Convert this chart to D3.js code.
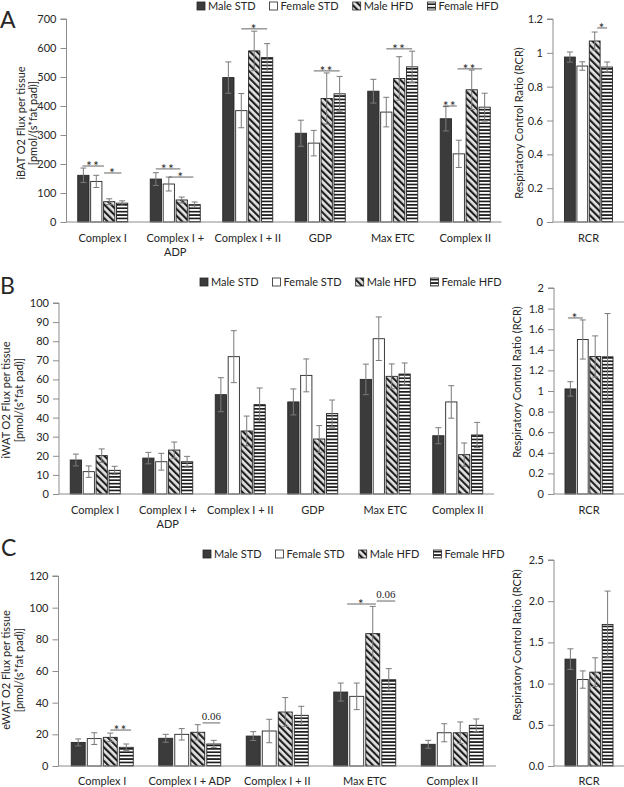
<!DOCTYPE html>
<html><head><meta charset="utf-8">
<script src="https://cdn.jsdelivr.net/npm/d3@7"></script>
<style>
body{margin:0;background:#fff}
svg{display:block}
text{font-family:Lato,"Open Sans",sans-serif;fill:#262626}
</style>
</head><body>
<svg id="chart" width="624" height="787"></svg>
<script>
// ---------- data ----------
const seriesNames = ["Male STD", "Female STD", "Male HFD", "Female HFD"];
const catsAB = ["Complex I", "Complex I +\nADP", "Complex I + II", "GDP", "Max ETC", "Complex II"];
const catsC = ["Complex I", "Complex I + ADP", "Complex I + II", "Max ETC", "Complex II"];
const rcrCats = ["RCR"];

// Panel A : iBAT
const aMaleSTD = [161, 148, 498, 306, 451, 356];
const aFemaleSTD = [140, 131, 384, 272, 379, 235];
const aMaleHFD = [70, 76, 590, 426, 495, 456];
const aFemaleHFD = [65, 60, 567, 442, 535, 396];
const aMaleSTDErr = [25, 22, 54, 45, 41, 42];
const aFemaleSTDErr = [21, 24, 59, 44, 51, 47];
const aMaleHFDErr = [10, 10, 68, 88, 75, 68];
const aFemaleHFDErr = [8, 9, 48, 60, 54, 48];
const aRCR = [0.975, 0.922, 1.07, 0.916];
const aRCRErr = [0.03, 0.025, 0.053, 0.03];
const aTicks = [0, 100, 200, 300, 400, 500, 600, 700];
const aRCRTicks = [0, 0.2, 0.4, 0.6, 0.8, 1, 1.2];
const aSig = [
  {cat: 0, s0: -0.08, s1: 1.6, y: 193, label: "**"},
  {cat: 0, s0: 1.6, s1: 2.95, y: 169, label: "*"},
  {cat: 1, s0: 0, s1: 1.9, y: 183, label: "**"},
  {cat: 1, s0: 1, s1: 2.9, y: 155, label: "*"},
  {cat: 2, s0: 1, s1: 3, y: 666, label: "*"},
  {cat: 3, s0: 1, s1: 3, y: 521, label: "**"},
  {cat: 4, s0: 1, s1: 3, y: 597, label: "**"},
  {cat: 5, s0: -0.2, s1: 0.85, y: 400, label: "**"},
  {cat: 5, s0: 0.9, s1: 2.8, y: 528, label: "**"}
];
const aRCRSig = [{cat: 0, s0: 2.2, s1: 3, y: 1.147, label: "*"}];

// Panel B : iWAT
const bMaleSTD = [17.8, 18.8, 52, 48.2, 60, 30.5];
const bFemaleSTD = [11.7, 16.9, 71.9, 62.1, 81.3, 48.2];
const bMaleHFD = [20.1, 23, 33, 28.8, 61.6, 20.6];
const bFemaleHFD = [12.4, 16.9, 46.8, 42.1, 62.8, 30.9];
const bMaleSTDErr = [3.1, 3, 8.9, 6.8, 8, 4.2];
const bFemaleSTDErr = [3, 4.4, 13.6, 8.6, 11.4, 8.5];
const bMaleHFDErr = [3.5, 4.2, 7.8, 7, 6.5, 6.1];
const bFemaleHFDErr = [2.1, 2.8, 8.7, 7.1, 5.8, 6.6];
const bRCR = [1.02, 1.5, 1.335, 1.332];
const bRCRErr = [0.07, 0.19, 0.2, 0.42];
const bTicks = [0, 10, 20, 30, 40, 50, 60, 70, 80, 90, 100];
const bRCRTicks = [0, 0.2, 0.4, 0.6, 0.8, 1, 1.2, 1.4, 1.6, 1.8, 2];
const bSig = [];
const bRCRSig = [{cat: 0, s0: -0.2, s1: 1, y: 1.709, label: "*"}];

// Panel C : eWAT
const cMaleSTD = [14.9, 17.5, 18.9, 46.7, 13.7];
const cFemaleSTD = [17.3, 20, 22.1, 44, 21];
const cMaleHFD = [18.1, 21.3, 34.1, 83.6, 21];
const cFemaleHFD = [11.8, 13.9, 32, 54.5, 25.7];
const cMaleSTDErr = [2.2, 2.5, 2.8, 5.7, 2.5];
const cFemaleSTDErr = [3.7, 3.6, 7.4, 8.4, 5.7];
const cMaleHFDErr = [2.7, 4.8, 9.1, 17.2, 6.8];
const cFemaleHFDErr = [2.1, 2.3, 5.7, 7, 4];
const cRCR = [1.297, 1.049, 1.139, 1.718];
const cRCRErr = [0.125, 0.105, 0.174, 0.405];
const cTicks = [0, 20, 40, 60, 80, 100, 120];
const cRCRTicks = [0, 0.5, 1, 1.5, 2, 2.5];
const cSig = [
  {cat: 0, s0: 2, s1: 3.3, y: 22.7, label: "**"},
  {cat: 1, s0: 2.3, s1: 3.4, y: 27.2, label: "0.06"},
  {cat: 3, s0: 0.4, s1: 2.2, y: 102.3, label: "*"},
  {cat: 3, s0: 2.25, s1: 3.4, y: 104.2, label: "0.06"}
];
const cRCRSig = [];

// ---------- drawing ----------
const svg = d3.select("#chart");
const defs = svg.append("defs");
const pd = defs.append("pattern").attr("id", "diag").attr("patternUnits", "userSpaceOnUse")
  .attr("width", 4.8).attr("height", 4.8).attr("patternTransform", "rotate(-45)");
pd.append("rect").attr("width", 4.8).attr("height", 4.8).attr("fill", "#e2e2e2");
pd.append("rect").attr("width", 2.1).attr("height", 4.8).attr("fill", "#1e1e1e");
const ph = defs.append("pattern").attr("id", "horz").attr("patternUnits", "userSpaceOnUse")
  .attr("width", 4).attr("height", 3.4);
ph.append("rect").attr("width", 4).attr("height", 3.4).attr("fill", "#fff");
ph.append("rect").attr("width", 4).attr("height", 1.7).attr("fill", "#1e1e1e");

const fills = ["#3b3b3b", "#ffffff", "url(#diag)", "url(#horz)"];
const axisColor = "#8c8c8c";
const errColor = "#7a7a7a";
const textColor = "#262626";

function drawBars(o) {
  const g = svg.append("g");
  const x = d3.scaleBand().domain(o.cats).range(o.xRange).paddingInner(0).paddingOuter(0);
  const y = d3.scaleLinear().domain(o.yDomain).range(o.yRange);
  const inner = d3.scaleBand().domain(seriesNames).range([0, o.groupW]).paddingInner(0.13);
  const gx = c => x(c) + (x.bandwidth() - o.groupW) / 2;
  const sx = (ci, s) => gx(o.cats[ci]) + inner.step() * s + inner.bandwidth() / 2;

  // y axis
  const ya = g.append("g").attr("transform", `translate(${o.xRange[0]},0)`)
    .call(d3.axisLeft(y).tickValues(o.ticks).tickSize(6).tickPadding(4).tickFormat(o.fmt));
  ya.select(".domain").attr("stroke", axisColor).attr("d", `M-6,${y(o.yDomain[1])}H0V${y(0)}`);
  ya.selectAll(".tick line").attr("stroke", axisColor);
  ya.selectAll(".tick text").style("font-family", "Lato").style("font-size", "11px").attr("fill", textColor);

  // bars
  const rows = [];
  o.cats.forEach((c, ci) => seriesNames.forEach((s, si) => {
    rows.push({c, ci, s, si, v: o.means[si][ci], e: o.errs[si][ci]});
  }));
  g.selectAll("rect.bar").data(rows).join("rect").attr("class", "bar")
    .attr("x", d => gx(d.c) + inner(d.s))
    .attr("y", d => y(d.v))
    .attr("width", inner.bandwidth())
    .attr("height", d => y(0) - y(d.v))
    .attr("fill", d => fills[d.si])
    .attr("stroke", textColor).attr("stroke-width", 0.9);

  // x axis baseline
  g.append("line").attr("x1", o.xRange[0]).attr("x2", o.xRange[1])
    .attr("y1", y(0)).attr("y2", y(0)).attr("stroke", axisColor).attr("stroke-width", 1);

  // error bars
  const eb = g.selectAll("g.err").data(rows).join("g").attr("class", "err")
    .attr("stroke", errColor).attr("stroke-width", 1);
  const cx = d => gx(d.c) + inner(d.s) + inner.bandwidth() / 2;
  eb.append("line").attr("x1", cx).attr("x2", cx)
    .attr("y1", d => y(d.v - d.e)).attr("y2", d => y(d.v + d.e));
  eb.append("line").attr("x1", d => cx(d) - 3).attr("x2", d => cx(d) + 3)
    .attr("y1", d => y(d.v + d.e)).attr("y2", d => y(d.v + d.e));
  eb.append("line").attr("x1", d => cx(d) - 3).attr("x2", d => cx(d) + 3)
    .attr("y1", d => y(d.v - d.e)).attr("y2", d => y(d.v - d.e));

  // category labels
  o.cats.forEach(c => {
    const lines = c.split("\n");
    const t = g.append("text").attr("text-anchor", "middle")
      .attr("x", x(c) + x.bandwidth() / 2).attr("y", o.labelY)
      .attr("fill", textColor).style("font-size", "11px");
    lines.forEach((l, i) => t.append("tspan").attr("x", x(c) + x.bandwidth() / 2)
      .attr("dy", i === 0 ? 0 : 14).text(l));
  });

  // significance
  o.sig.forEach(s => {
    const x0 = sx(s.cat, s.s0), x1 = sx(s.cat, s.s1), yy = y(s.y);
    g.append("line").attr("x1", x0).attr("x2", x1).attr("y1", yy).attr("y2", yy)
      .attr("stroke", "#555").attr("stroke-width", 0.9);
    const isNum = s.label.indexOf("*") < 0;
    g.append("text").attr("text-anchor", "middle").attr("x", (x0 + x1) / 2)
      .attr("y", isNum ? yy - 3 : yy + 5)
      .attr("fill", textColor)
      .style("font-family", isNum ? "'Liberation Serif',serif" : "Lato")
      .style("font-size", isNum ? "11px" : "13px")
      .style("letter-spacing", isNum ? "0px" : "1.5px")
      .text(s.label);
  });

  // y title
  const tt = g.append("text").attr("text-anchor", "middle").attr("fill", textColor)
    .attr("transform", `translate(${o.titleX},${o.titleY}) rotate(-90)`).style("font-size", "11px");
  o.title.forEach((l, i) => tt.append("tspan").attr("x", 0).attr("dy", i === 0 ? 0 : o.titleDy).text(l));
}

function legend(x0, yc) {
  const g = svg.append("g");
  let x = x0;
  seriesNames.forEach((s, i) => {
    g.append("rect").attr("x", x).attr("y", yc - 4).attr("width", 8).attr("height", 8)
      .attr("fill", fills[i]).attr("stroke", textColor).attr("stroke-width", 0.8);
    const t = g.append("text").attr("x", x + 11).attr("y", yc + 4).attr("fill", textColor)
      .style("font-size", "11px").text(s);
    x += 11 + t.node().getComputedTextLength() + 14;
  });
}

function letter(l, x, y) {
  svg.append("text").attr("x", x).attr("y", y).attr("fill", textColor).style("font-size", "23px").text(l);
}

// Panel A
letter("A", 0, 28);
legend(197, 6);
drawBars({cats: catsAB, means: [aMaleSTD, aFemaleSTD, aMaleHFD, aFemaleHFD],
  errs: [aMaleSTDErr, aFemaleSTDErr, aMaleHFDErr, aFemaleHFDErr],
  yDomain: [0, 700], ticks: aTicks, fmt: d3.format("d"), xRange: [66.5, 501.5], yRange: [222, 19],
  groupW: 50, labelY: 242, sig: aSig, title: ["iBAT O2 Flux per tissue", "[pmol/(s*fat pad)]"],
  titleX: 25, titleY: 123, titleDy: 12});
drawBars({cats: rcrCats, means: aRCR.map(v => [v]), errs: aRCRErr.map(v => [v]),
  yDomain: [0, 1.2], ticks: aRCRTicks, fmt: d => d3.format("")(+d.toFixed(1)), xRange: [553, 624], yRange: [222, 19],
  groupW: 48, labelY: 242, sig: aRCRSig, title: ["Respiratory Control Ratio (RCR)"],
  titleX: 523, titleY: 123, titleDy: 12});

// Panel B
letter("B", 0, 294);
legend(200, 282);
drawBars({cats: catsAB, means: [bMaleSTD, bFemaleSTD, bMaleHFD, bFemaleHFD],
  errs: [bMaleSTDErr, bFemaleSTDErr, bMaleHFDErr, bFemaleHFDErr],
  yDomain: [0, 100], ticks: bTicks, fmt: d3.format("d"), xRange: [59, 494], yRange: [494, 303],
  groupW: 50, labelY: 514, sig: bSig, title: ["iWAT O2 Flux per tissue", "[pmol/(s*fat pad)]"],
  titleX: 10, titleY: 400, titleDy: 13});
drawBars({cats: rcrCats, means: bRCR.map(v => [v]), errs: bRCRErr.map(v => [v]),
  yDomain: [0, 2], ticks: bRCRTicks, fmt: d => d3.format("")(+d.toFixed(1)), xRange: [554, 624], yRange: [494, 288],
  groupW: 48, labelY: 514, sig: bRCRSig, title: ["Respiratory Control Ratio (RCR)"],
  titleX: 521, titleY: 382, titleDy: 12});

// Panel C
letter("C", 1, 556);
legend(203, 554);
drawBars({cats: catsC, means: [cMaleSTD, cFemaleSTD, cMaleHFD, cFemaleHFD],
  errs: [cMaleSTDErr, cFemaleSTDErr, cMaleHFDErr, cFemaleHFDErr],
  yDomain: [0, 120], ticks: cTicks, fmt: d3.format("d"), xRange: [58.5, 496], yRange: [766, 576],
  groupW: 62, labelY: 785, sig: cSig, title: ["eWAT O2 Flux per tissue", "[pmol/(s*fat pad)]"],
  titleX: 10, titleY: 670, titleDy: 13});
drawBars({cats: rcrCats, means: cRCR.map(v => [v]), errs: cRCRErr.map(v => [v]),
  yDomain: [0, 2.5], ticks: cRCRTicks, fmt: d3.format(".1f"), xRange: [554, 624], yRange: [766, 560],
  groupW: 48, labelY: 785, sig: cRCRSig, title: ["Respiratory Control Ratio (RCR)"],
  titleX: 521, titleY: 645, titleDy: 12});
</script>
</body></html>
